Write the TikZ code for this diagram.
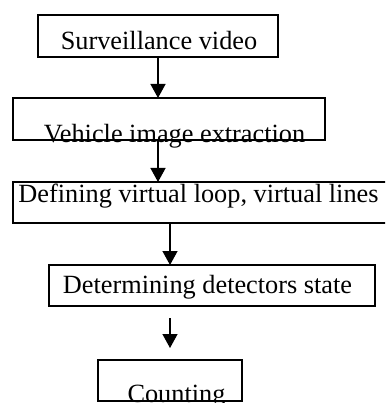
\documentclass[tikz,border=0pt]{standalone}
\usepackage{fontspec}
\setmainfont{Liberation Serif}
\usetikzlibrary{arrows.meta}
\begin{document}
\begin{tikzpicture}[x=1pt,y=-1pt,
  box/.style={draw,line width=1.3pt,inner sep=0pt,outer sep=0pt},
  lbl/.style={anchor=base,inner sep=0pt,font=\fontsize{26.3pt}{30pt}\selectfont},
  arr/.style={line width=1.3pt,-{Triangle[width=15pt,length=14pt]}}]
\useasboundingbox (0,0) rectangle (385,403);
\clip (0,0) rectangle (385,403);
\node[box,minimum width=240pt,minimum height=42pt] (b1) at (158,36) {};
\node[box,minimum width=312pt,minimum height=42pt] (b2) at (169,119) {};
\node[box,minimum width=382pt,minimum height=41pt] (b3) at (204,202.5) {};
\node[box,minimum width=326pt,minimum height=41pt] (b4) at (212,285.5) {};
\node[box,minimum width=144pt,minimum height=41pt] (b5) at (170,380.5) {};
\node[lbl] (t1) at (159,49.5) {Surveillance video};
\node[lbl] (t2) at (174.5,143) {Vehicle image extraction};
\node[lbl] (t3) at (198.5,202) {Defining virtual loop, virtual lines};
\node[lbl] (t4) at (207.5,293) {Determining detectors state};
\node[lbl] (t5) at (176.5,402) {Counting};
\coordinate (c4a) at (170,318);
\coordinate (c4b) at (170,348);
\draw[arr] (b1.south) -- (b1.south |- b2.north);
\draw[arr] (b2.south -| b1.south) -- (b1.south |- b3.north);
\draw[arr] (b5.north |- b3.south) -- (b5.north |- b4.north);
\draw[arr] (c4a) -- (c4b);
\end{tikzpicture}
\end{document}
